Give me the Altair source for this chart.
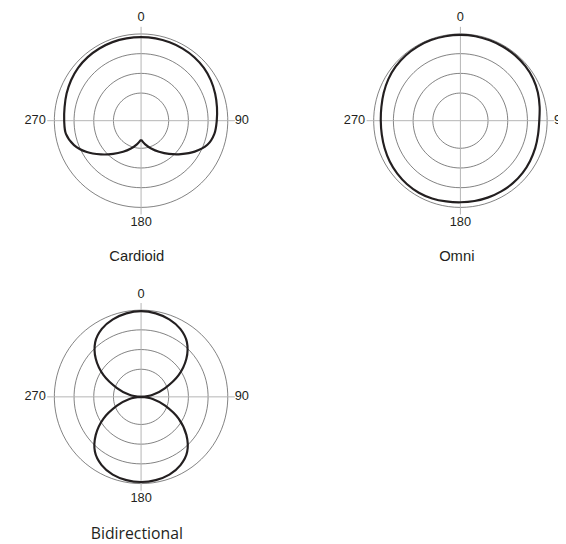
import altair as alt
import pandas as pd

# ---------------- data ----------------
ANGLES = [0, 10, 20, 30, 40, 50, 60, 70, 80, 90, 100, 110, 120, 130, 140, 150, 160, 170,
          180, 190, 200, 210, 220, 230, 240, 250, 260, 270, 280, 290, 300, 310, 320, 330, 340, 350]

# response in dB at each angle
CARDIOID_DB = [-0.8, -0.8, -0.85, -0.9, -1.0, -1.2, -1.55, -2.0, -2.45, -2.8, -3.1, -4.1,
               -6.3, -8.8, -11.0, -12.9, -14.5, -15.9, -17.2, -15.9, -14.5, -12.9, -11.0, -8.7,
               -6.1, -3.9, -2.65, -2.5, -2.3, -1.9, -1.5, -1.15, -0.95, -0.85, -0.8, -0.8]
OMNI_DB = [-0.25, -0.25, -0.3, -0.35, -0.4, -0.5, -0.7, -1.1, -1.6, -2.0, -2.0, -1.8,
           -1.6, -1.4, -1.3, -1.3, -1.3, -1.3, -1.3, -1.2, -1.0, -0.9, -0.95, -1.1,
           -1.3, -1.55, -1.75, -1.8, -1.65, -1.3, -0.9, -0.6, -0.4, -0.3, -0.25, -0.25]
BIDIR_DB = [-0.25, -0.5, -1.1, -2.1, -3.9, -7.0, -11.0, -15.5, -19.0, -22.0, -19.0, -15.5,
            -11.0, -7.0, -3.8, -2.0, -1.0, -0.55, -0.4, -0.55, -1.0, -2.0, -3.8, -7.0,
            -11.0, -15.5, -19.0, -22.0, -19.0, -15.5, -11.0, -7.0, -3.9, -2.1, -1.1, -0.5]

# angles where the pattern has a sharp point (null / cusp)
CARDIOID_CUSPS = [180]
OMNI_CUSPS = []
BIDIR_CUSPS = [90, 270]

RING_DB = [0, -5, -10, -15]
FLOOR_DB = -22.0
AXIS_ANGLES = [0, 90, 180, 270]
AXIS_LABELS = ["0", "90", "180", "270"]
TITLES = ["Cardioid", "Omni", "Bidirectional"]

# ---------------- styling ----------------
INK = "#231f20"
GRID = "#4a4a4a"
CROSS = "#b4b4b4"
LABEL_FONT = "Liberation Sans"
R_CROSS = 23.8  # radius units (1 unit = 4 px)


def curve_table(values, cusps):
    """Walk round the pattern, starting a new line piece at every cusp."""
    n = len(ANGLES)
    rows = []
    if not cusps:
        for i, (a, v) in enumerate(zip(ANGLES, values)):
            rows.append({"seg": 0, "k": i, "angle": a, "db": v})
        return pd.DataFrame(rows)
    start = ANGLES.index(cusps[0])
    seg, k = 0, 0
    for i in range(n + 1):
        idx = (start + i) % n
        a, v = ANGLES[idx], values[idx]
        rows.append({"seg": seg, "k": k, "angle": a, "db": v})
        k += 1
        if 0 < i < n and a in cusps:
            seg += 1
            rows.append({"seg": seg, "k": k, "angle": a, "db": v})
            k += 1
    return pd.DataFrame(rows)


def polar_panel(values, cusps, title, xdom, ydom, title_font, title_size,
                title_offset, title_dx):
    xs = alt.Scale(domain=xdom, nice=False, zero=False)
    ys = alt.Scale(domain=ydom, nice=False, zero=False)

    def X(f):
        return alt.X(f"{f}:Q", scale=xs, axis=None)

    def Y(f):
        return alt.Y(f"{f}:Q", scale=ys, axis=None)

    ring_rows = [{"ring": db, "step": a} for db in RING_DB for a in range(0, 361, 4)]
    rings = (
        alt.Chart(pd.DataFrame(ring_rows))
        .transform_calculate(
            r=f"datum.ring - ({FLOOR_DB})",
            px="datum.r * sin(datum.step * PI / 180)",
            py="datum.r * cos(datum.step * PI / 180)",
        )
        .mark_line(color=GRID, strokeWidth=0.7)
        .encode(x=X("px"), y=Y("py"), detail="ring:N", order="step:Q")
    )

    cross = (
        alt.Chart(pd.DataFrame({"angle": AXIS_ANGLES}))
        .transform_calculate(
            x0="0",
            y0="0",
            x1=f"{R_CROSS} * sin(datum.angle * PI / 180)",
            y1=f"{R_CROSS} * cos(datum.angle * PI / 180)",
        )
        .mark_rule(color=CROSS, strokeWidth=1)
        .encode(x=X("x0"), y=Y("y0"), x2="x1:Q", y2="y1:Q")
    )

    interp = "cardinal" if cusps else "cardinal-closed"
    curve = (
        alt.Chart(curve_table(values, cusps))
        .transform_calculate(
            r=f"max(datum.db - ({FLOOR_DB}), 0)",
            px="datum.r * sin(datum.angle * PI / 180)",
            py="datum.r * cos(datum.angle * PI / 180)",
        )
        .mark_line(color=INK, strokeWidth=2.2, strokeJoin="round", interpolate=interp)
        .encode(x=X("px"), y=Y("py"), detail="seg:N", order="k:Q")
    )

    label_df = pd.DataFrame({"angle": AXIS_ANGLES, "label": AXIS_LABELS})
    label_specs = [
        (0, "center", "bottom", 24.43, 0),
        (90, "left", "middle", 23.75, -0.7),
        (180, "center", "top", 24.2, 0),
        (270, "right", "middle", 24.15, -0.7),
    ]
    labels = []
    for a, al, bl, rr, ddy in label_specs:
        labels.append(
            alt.Chart(label_df)
            .transform_filter(f"datum.angle == {a}")
            .transform_calculate(
                lx=f"{rr} * sin(datum.angle * PI / 180)",
                ly=f"{rr} * cos(datum.angle * PI / 180)",
            )
            .mark_text(align=al, baseline=bl, dy=ddy, font=LABEL_FONT, fontSize=13,
                       color=INK, clip=True)
            .encode(x=X("lx"), y=Y("ly"), text="label:N")
        )

    width = (xdom[1] - xdom[0]) * 4
    height = (ydom[1] - ydom[0]) * 4
    return alt.layer(rings, cross, curve, *labels).properties(
        width=width,
        height=height,
        title=alt.TitleParams(
            text=title,
            orient="bottom",
            anchor="middle",
            offset=title_offset,
            dx=title_dx,
            font=title_font,
            fontSize=title_size,
            fontWeight="normal",
            color=INK,
        ),
    )


YDOM = [-27.5, 27.6]
card = polar_panel(CARDIOID_DB, CARDIOID_CUSPS, TITLES[0], [-33.75, 28], YDOM,
                   "Liberation Sans", 15, 20.75, 7.2)
omni = polar_panel(OMNI_DB, OMNI_CUSPS, TITLES[1], [-31, 24.75], YDOM,
                   "Liberation Sans", 15, 20.75, 8.8)
bidir = polar_panel(BIDIR_DB, BIDIR_CUSPS, TITLES[2], [-33.75, 28], YDOM,
                    "Open Sans", 16, 21.0, 7.2)

chart = (
    alt.vconcat(alt.hconcat(card, omni, spacing=88), bidir, spacing=23.2)
    .properties(padding=0)
    .configure_view(stroke=None)
)

chart.save("out.html", embed_options={"renderer": "svg", "actions": False})
